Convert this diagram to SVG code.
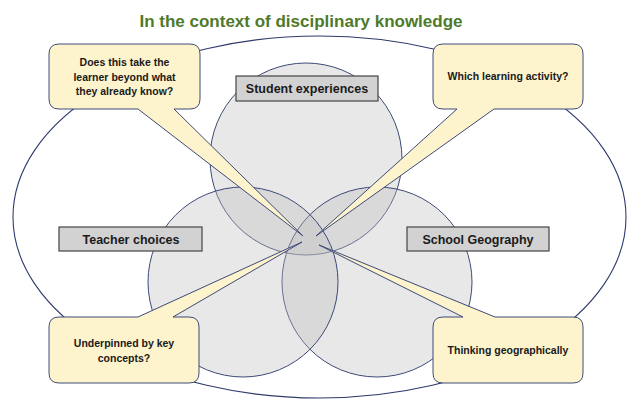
<svg xmlns="http://www.w3.org/2000/svg" width="639" height="409" viewBox="0 0 639 409">
<style>
.title{font-family:"Liberation Sans",Arial,sans-serif;font-weight:bold;font-size:17px;fill:#4e7a2a;text-anchor:middle}
.circ{fill:#bcbcbc;fill-opacity:0.35;stroke:#3d4a78;stroke-width:1}
.lab rect{fill:#d2d2d2;stroke:#444;stroke-width:1.2}
.lab text{font-family:"Liberation Sans",Arial,sans-serif;font-weight:bold;font-size:12.5px;fill:#1a1a1a;text-anchor:middle}
.call path{fill:#fdf3cc;stroke:#3d4a78;stroke-width:1;stroke-linejoin:round}
.call text{font-family:"Liberation Sans",Arial,sans-serif;font-weight:bold;font-size:10.5px;fill:#1a1a1a;text-anchor:middle}
</style>
<rect width="639" height="409" fill="#fff"/>
<text class="title" x="301" y="27">In the context of disciplinary knowledge</text>
<ellipse id="outer" cx="319.5" cy="217" rx="306.5" ry="181" fill="none" stroke="#2f3b6b" stroke-width="1.1"/>
<g id="student-circle"><circle class="circ" cx="306" cy="159" r="96"/></g>
<g id="geography-circle"><circle class="circ" cx="377" cy="282" r="95"/></g>
<g id="teacher-circle"><circle class="circ" cx="243" cy="282" r="95"/></g>
<g id="student-label" class="lab"><rect x="236" y="76" width="142" height="25"/><text x="307" y="93">Student experiences</text></g>
<g id="teacher-label" class="lab"><rect x="59" y="227" width="143" height="24"/><text x="131" y="243.5">Teacher choices</text></g>
<g id="geography-label" class="lab"><rect x="407" y="227" width="142" height="24"/><text x="478" y="243.5">School Geography</text></g>
<g id="connectors"></g>
<g id="callout-beyond" class="call">
<path d="M59,44 H190 Q200,44 200,54 V99 Q200,109 190,109 H174 L303,236 L138,109 H59 Q49,109 49,99 V54 Q49,44 59,44 Z"/>
<text x="124.5" y="66">Does this take the</text>
<text x="124.5" y="80.5">learner beyond what</text>
<text x="124.5" y="95">they already know?</text>
</g>
<g id="callout-activity" class="call">
<path d="M443,44 H573 Q583,44 583,54 V99 Q583,109 573,109 H494 L316,236 L457,109 H443 Q433,109 433,99 V54 Q433,44 443,44 Z"/>
<text x="508" y="80">Which learning activity?</text>
</g>
<g id="callout-concepts" class="call">
<path d="M59,317 H138 L302,242 L173,317 H189 Q199,317 199,327 V373 Q199,383 189,383 H59 Q49,383 49,373 V327 Q49,317 59,317 Z"/>
<text x="124" y="347">Underpinned by key</text>
<text x="124" y="362">concepts?</text>
</g>
<g id="callout-thinking" class="call">
<path d="M443,317 H463 L319,245 L495,317 H573 Q583,317 583,327 V373 Q583,383 573,383 H443 Q433,383 433,373 V327 Q433,317 443,317 Z"/>
<text x="508" y="354">Thinking geographically</text>
</g>
</svg>
